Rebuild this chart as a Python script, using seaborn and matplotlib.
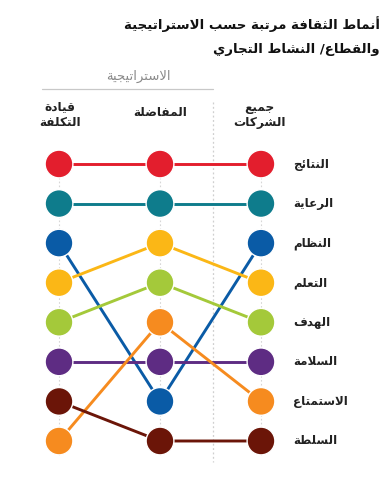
import matplotlib
matplotlib.use("Agg")
import matplotlib.pyplot as plt
import seaborn as sns
import pandas as pd

# ---------------- data ----------------
cultures = ["النتائج", "الرعاية", "النظام", "التعلم", "الهدف", "السلامة", "الاستمتاع", "السلطة"]
colors = ["#E31E2D", "#0E7C8C", "#0A5BA6", "#FBB716", "#A4C93A", "#5E2C83", "#F68B1F", "#6B1508"]
strategy_labels = ["قيادة\nالتكلفة", "المفاضلة", "جميع\nالشركات"]
rank_cost_leadership = [1, 2, 3, 4, 5, 6, 8, 7]
rank_differentiation = [1, 2, 7, 3, 4, 6, 5, 8]
rank_all_companies = [1, 2, 3, 4, 5, 6, 7, 8]
title_lines = ["أنماط الثقافة مرتبة حسب الاستراتيجية", "والقطاع/ النشاط التجاري"]
group_label = "الاستراتيجية"

# ------------- minimal Arabic shaping (matplotlib has no RTL layout) -------------
FOUR = {'ئ': 0xFE89, 'ب': 0xFE8F, 'ت': 0xFE95, 'ث': 0xFE99, 'ج': 0xFE9D, 'ح': 0xFEA1,
        'خ': 0xFEA5, 'س': 0xFEB1, 'ش': 0xFEB5, 'ص': 0xFEB9, 'ض': 0xFEBD, 'ط': 0xFEC1,
        'ظ': 0xFEC5, 'ع': 0xFEC9, 'غ': 0xFECD, 'ف': 0xFED1, 'ق': 0xFED5, 'ك': 0xFED9,
        'ل': 0xFEDD, 'م': 0xFEE1, 'ن': 0xFEE5, 'ه': 0xFEE9, 'ي': 0xFEF1}
TWO = {'آ': 0xFE81, 'أ': 0xFE83, 'ؤ': 0xFE85, 'إ': 0xFE87, 'ا': 0xFE8D, 'ة': 0xFE93,
       'د': 0xFEA9, 'ذ': 0xFEAB, 'ر': 0xFEAD, 'ز': 0xFEAF, 'و': 0xFEED, 'ى': 0xFEEF}
LAMALEF = {'آ': 0xFEF5, 'أ': 0xFEF7, 'إ': 0xFEF9, 'ا': 0xFEFB}


def ar(w):
    toks = []
    i = 0
    while i < len(w):
        c = w[i]
        if c == 'ل' and i + 1 < len(w) and w[i + 1] in LAMALEF:
            toks.append(('LA', w[i + 1]))
            i += 2
        else:
            toks.append(('C', c))
            i += 1

    def jl(t):
        return t[0] == 'C' and t[1] in FOUR

    def jr(t):
        return t[0] == 'LA' or t[1] in FOUR or t[1] in TWO

    out = []
    for k, tok in enumerate(toks):
        prev = toks[k - 1] if k > 0 else None
        nxt = toks[k + 1] if k + 1 < len(toks) else None
        cp = prev is not None and jl(prev) and jr(tok)
        cn = nxt is not None and jl(tok) and jr(nxt)
        t, c = tok
        if t == 'LA':
            out.append(chr(LAMALEF[c] + (1 if cp else 0)))
        elif c in FOUR:
            b = FOUR[c]
            out.append(chr(b + 3 if (cp and cn) else b + 1 if cp else b + 2 if cn else b))
        elif c in TWO:
            out.append(chr(TWO[c] + (1 if cp else 0)))
        else:
            out.append(c)
    return ''.join(reversed(out))


# ------------- build table -------------
rows = []
for pos, ranks in enumerate([rank_cost_leadership, rank_differentiation, rank_all_companies]):
    for name, r in zip(cultures, ranks):
        rows.append({"pos": pos, "culture": name, "rank": r})
df = pd.DataFrame(rows)
palette = dict(zip(cultures, colors))

sns.set_theme(style="white")
plt.rcParams['font.family'] = ['DejaVu Sans']

W, H = 389, 486
fig = plt.figure(figsize=(W / 100, H / 100), dpi=100)
ax = fig.add_axes([0, 0, 1, 1])

# pixel mapping: x px = 59 + 101*pos ; y px = 164 + 39.57*(rank-1)
dx, dy = 101.0, 39.57


def px(x, y):
    return (x - 59) / dx, 1 + (y - 164) / dy


# faint guide lines
for pos in range(3):
    ax.plot([pos, pos], [px(0, 150)[1], px(0, 457)[1]], color="#d6d6d6", lw=0.8,
            ls=(0, (1.5, 2)), zorder=0)
x_sep = px(213, 0)[0]
ax.plot([x_sep, x_sep], [px(0, 102)[1], px(0, 462)[1]], color="#cfcfcf", lw=0.9,
        ls=(0, (1.5, 2)), zorder=0)
ax.plot([px(42, 0)[0], px(213, 0)[0]], [px(0, 89)[1]] * 2, color="#c8c8c8", lw=0.9, zorder=0)

sns.lineplot(data=df, x="pos", y="rank", hue="culture", palette=palette, sort=False,
             estimator=None, units="culture", legend=False, lw=2.1, ax=ax, zorder=2)
sns.scatterplot(data=df, x="pos", y="rank", hue="culture", palette=palette, s=400,
                edgecolor="white", linewidth=1.0, legend=False, ax=ax, zorder=3)
ax.set_xlim(-59 / dx, (W - 59) / dx)
ax.set_ylim(1 + (H - 164) / dy, 1 - 164 / dy)
ax.axis("off")

# row labels
for name, r in zip(cultures, rank_all_companies):
    ax.text(px(293, 0)[0], r, ar(name), ha="left", va="center", fontsize=8.6,
            fontweight="bold", color="#222222")

# column headers
for pos, lab in enumerate(strategy_labels):
    lines = lab.split("\n")
    cx = [60, 160, 259][pos]
    ys = [107, 122] if len(lines) == 2 else [113]
    for t, yy in zip(lines, ys):
        fig.text(cx / W, 1 - yy / H, ar(t), ha="center", va="center", fontsize=8.7,
                 fontweight="bold", color="#222222")

fig.text(138 / W, 1 - 76 / H, ar(group_label), ha="center", va="center", fontsize=9.5,
         color="#8a8a8a")

for t, yy in zip(title_lines, [24, 49]):
    fig.text(380 / W, 1 - yy / H, ar(t), ha="right", va="center", fontsize=9.6,
             fontweight="bold", color="#111111")

fig.savefig("out.png", dpi=100)
